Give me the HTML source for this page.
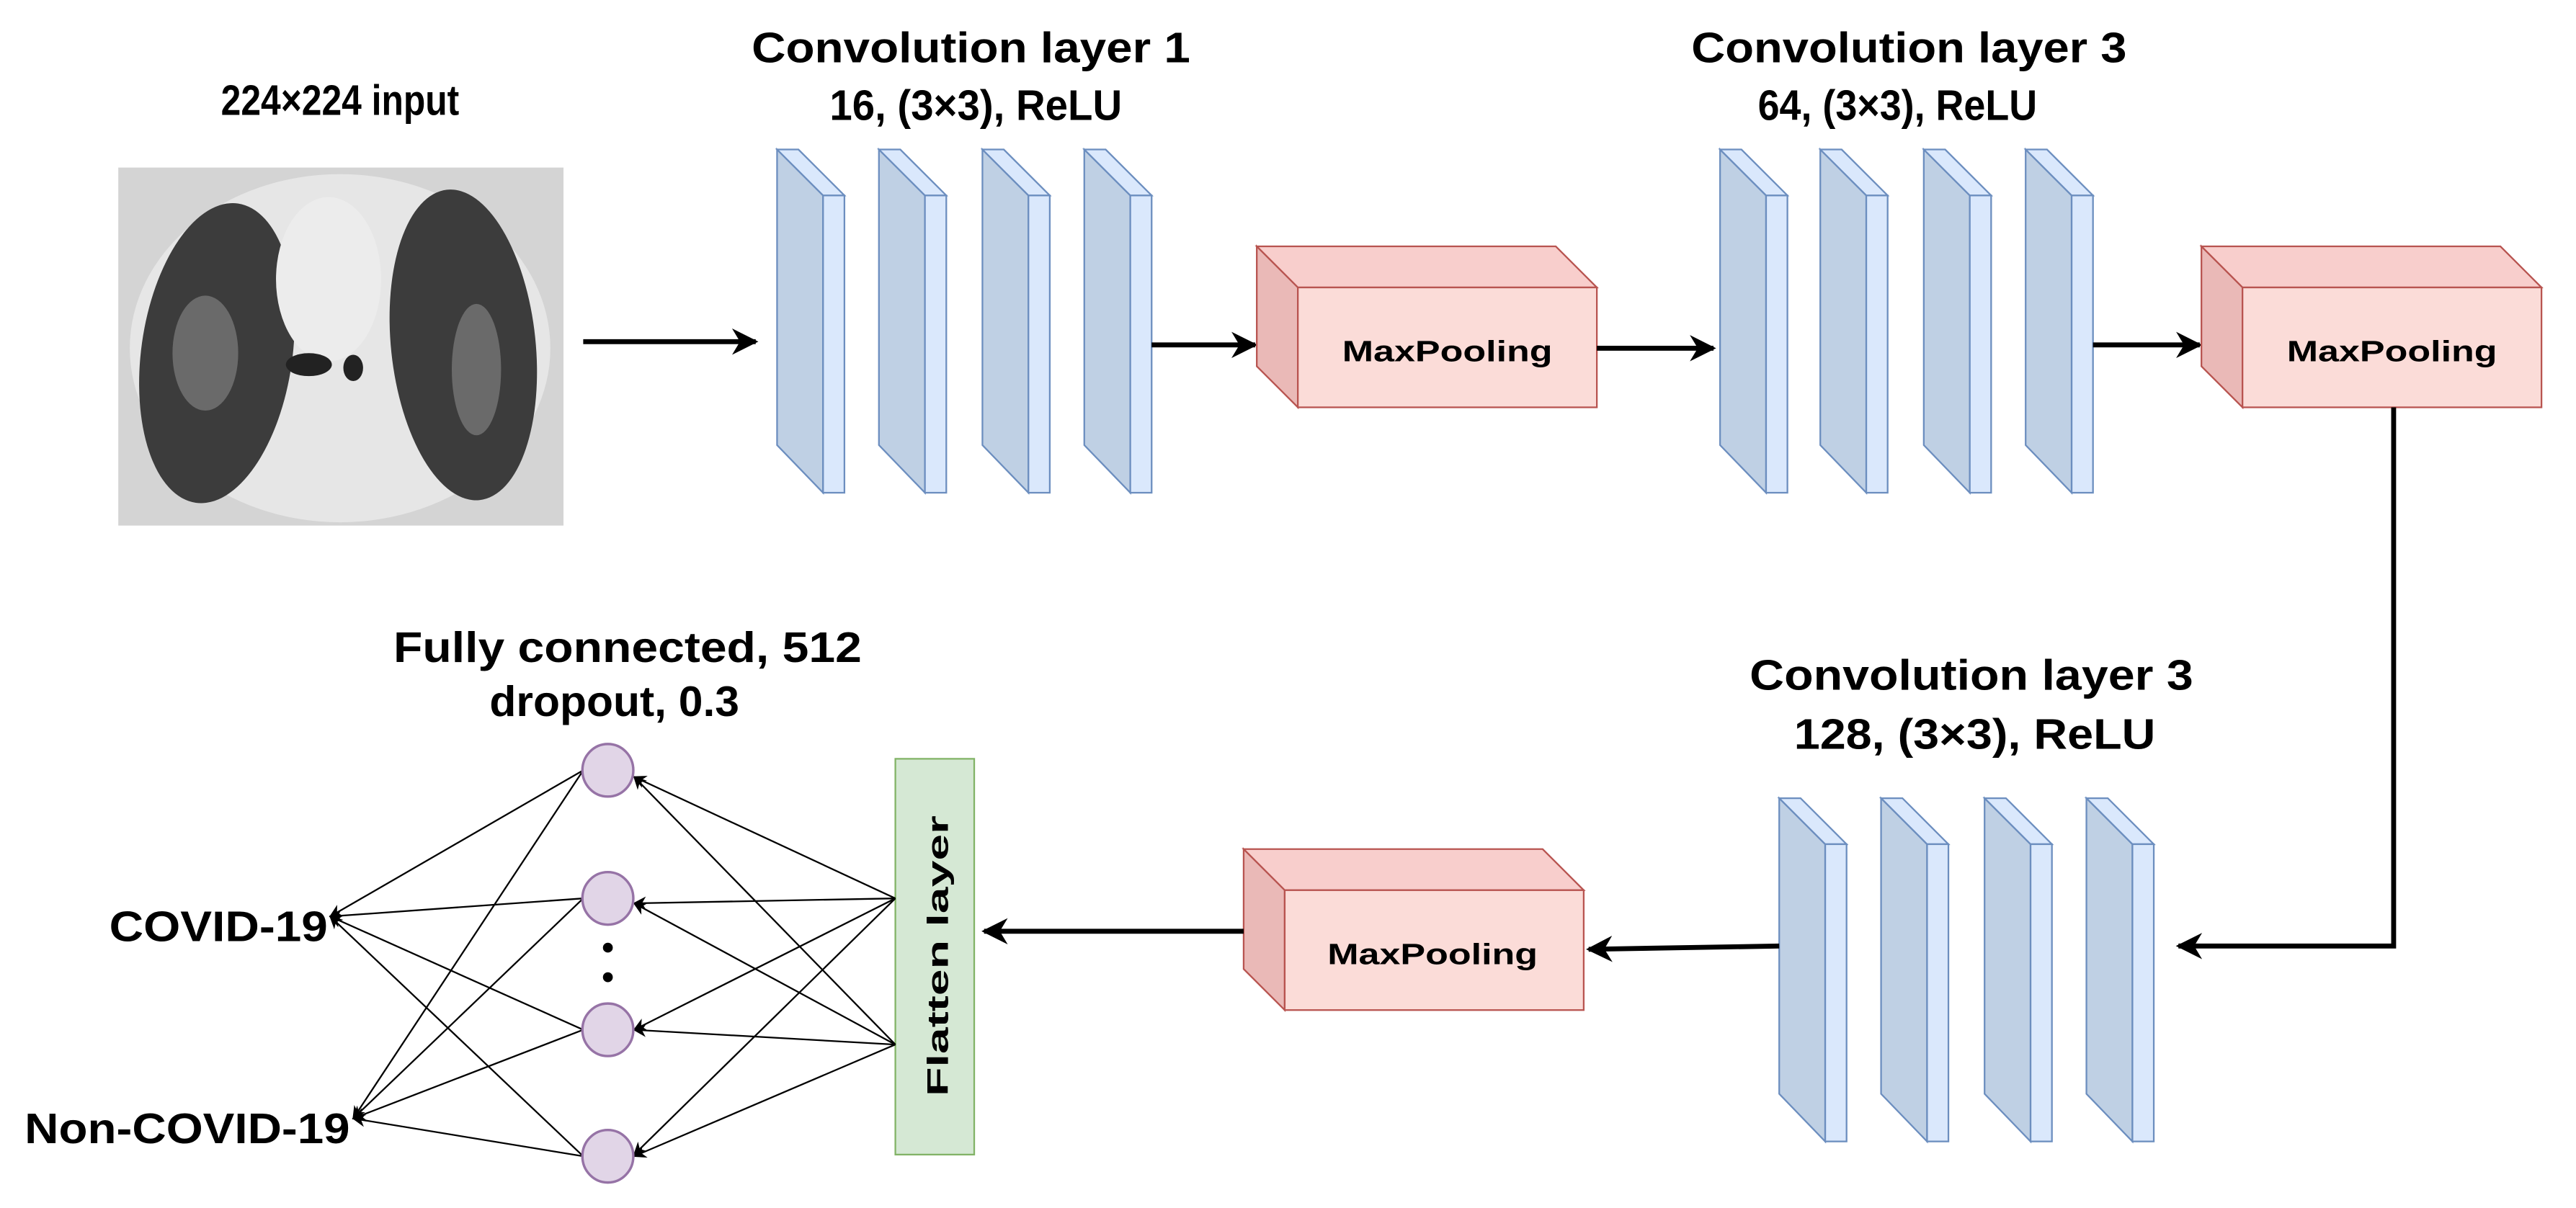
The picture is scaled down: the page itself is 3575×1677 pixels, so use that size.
<!DOCTYPE html>
<html><head><meta charset="utf-8"><style>
html,body{margin:0;padding:0;background:#fff}
svg{display:block}
.t{font-family:"Liberation Sans",sans-serif;font-weight:bold;font-size:26px;fill:#000;text-anchor:middle}
.m{font-family:"Liberation Sans",sans-serif;font-weight:bold;font-size:18px;fill:#000;text-anchor:middle}
</style></head><body>
<svg width="3575" height="1677" viewBox="0 0 1568 735.5" xmlns="http://www.w3.org/2000/svg">
<defs>
<marker id="ah" viewBox="0 0 10 10" refX="9" refY="5" markerWidth="8" markerHeight="8" markerUnits="userSpaceOnUse" orient="auto"><path d="M0,0 L10,5 L0,10 L3,5 z" fill="#000"/></marker>
<marker id="ab" viewBox="0 0 10 10" refX="9" refY="5" markerWidth="16" markerHeight="16" markerUnits="userSpaceOnUse" orient="auto"><path d="M0,0 L10,5 L0,10 L3,5 z" fill="#000"/></marker>
<g id="slab">
<path d="M0,0 L28,28 L28,209 L0,180 z" fill="#bfd0e4" stroke="#6c8ebf" stroke-width="1"/>
<path d="M0,0 L13,0 L41,28 L28,28 z" fill="#dae8fc" stroke="#6c8ebf" stroke-width="1"/>
<rect x="28" y="28" width="13" height="181" fill="#dae8fc" stroke="#6c8ebf" stroke-width="1"/>
</g>
<g id="pool">
<path d="M0,0 L182,0 L207,25 L25,25 z" fill="#f8cecc" stroke="#b85450" stroke-width="1"/>
<path d="M0,0 L25,25 L25,98 L0,73 z" fill="#eab9b7" stroke="#b85450" stroke-width="1"/>
<rect x="25" y="25" width="182" height="73" fill="#fbdcd8" stroke="#b85450" stroke-width="1"/>
</g>
</defs>

<!-- input -->
<text class="t" x="207" y="70" textLength="145" lengthAdjust="spacingAndGlyphs">224×224 input</text>
<rect x="72" y="102" width="271" height="218" fill="#d4d4d4"/>
<ellipse cx="207" cy="212" rx="128" ry="106" fill="#e6e6e6"/>
<ellipse cx="132" cy="215" rx="46" ry="92" fill="#3c3c3c" transform="rotate(8 132 215)"/>
<ellipse cx="282" cy="210" rx="44" ry="95" fill="#3c3c3c" transform="rotate(-6 282 210)"/>
<ellipse cx="125" cy="215" rx="20" ry="35" fill="#6a6a6a"/>
<ellipse cx="290" cy="225" rx="15" ry="40" fill="#6a6a6a"/>
<ellipse cx="200" cy="170" rx="32" ry="50" fill="#ececec"/>
<ellipse cx="188" cy="222" rx="14" ry="7" fill="#222"/>
<ellipse cx="215" cy="224" rx="6" ry="8" fill="#222"/>
<line x1="355" y1="208" x2="460" y2="208" stroke="#000" stroke-width="3" marker-end="url(#ab)"/>

<!-- conv 1 -->
<text class="t" x="591" y="38" textLength="267" lengthAdjust="spacingAndGlyphs">Convolution layer 1</text>
<text class="t" x="594" y="73" textLength="178" lengthAdjust="spacingAndGlyphs">16, (3×3), ReLU</text>
<use href="#slab" x="473" y="91"/><use href="#slab" x="535" y="91"/><use href="#slab" x="598" y="91"/><use href="#slab" x="660" y="91"/>
<line x1="701" y1="210" x2="764" y2="210" stroke="#000" stroke-width="3" marker-end="url(#ab)"/>

<use href="#pool" x="765" y="150"/>
<text class="m" x="881" y="220" textLength="128" lengthAdjust="spacingAndGlyphs">MaxPooling</text>
<line x1="972" y1="212" x2="1043" y2="212" stroke="#000" stroke-width="3" marker-end="url(#ab)"/>

<!-- conv 2 -->
<text class="t" x="1162" y="38" textLength="265" lengthAdjust="spacingAndGlyphs">Convolution layer 3</text>
<text class="t" x="1155" y="73" textLength="170" lengthAdjust="spacingAndGlyphs">64, (3×3), ReLU</text>
<use href="#slab" x="1047" y="91"/><use href="#slab" x="1108" y="91"/><use href="#slab" x="1171" y="91"/><use href="#slab" x="1233" y="91"/>
<line x1="1274" y1="210" x2="1339" y2="210" stroke="#000" stroke-width="3" marker-end="url(#ab)"/>

<use href="#pool" x="1340" y="150"/>
<text class="m" x="1456" y="220" textLength="128" lengthAdjust="spacingAndGlyphs">MaxPooling</text>
<polyline points="1457,248 1457,576 1326,576" fill="none" stroke="#000" stroke-width="3" marker-end="url(#ab)"/>

<!-- conv 3 -->
<text class="t" x="1200" y="420" textLength="270" lengthAdjust="spacingAndGlyphs">Convolution layer 3</text>
<text class="t" x="1202" y="456" textLength="220" lengthAdjust="spacingAndGlyphs">128, (3×3), ReLU</text>
<use href="#slab" x="1083" y="486"/><use href="#slab" x="1145" y="486"/><use href="#slab" x="1208" y="486"/><use href="#slab" x="1270" y="486"/>
<line x1="1083" y1="576" x2="967" y2="578" stroke="#000" stroke-width="3" marker-end="url(#ab)"/>

<use href="#pool" x="757" y="517"/>
<text class="m" x="872" y="587" textLength="128" lengthAdjust="spacingAndGlyphs">MaxPooling</text>
<line x1="757" y1="567" x2="599" y2="567" stroke="#000" stroke-width="3" marker-end="url(#ab)"/>

<!-- flatten -->
<rect x="545" y="462" width="48" height="241" fill="#d5e8d4" stroke="#82b366" stroke-width="1"/>
<text class="m" x="0" y="0" font-size="22" textLength="171" lengthAdjust="spacingAndGlyphs" transform="translate(577 582) rotate(-90)">Flatten layer</text>

<!-- FC -->
<text class="t" x="382" y="403" textLength="285" lengthAdjust="spacingAndGlyphs">Fully connected, 512</text>
<text class="t" x="374" y="436" textLength="152" lengthAdjust="spacingAndGlyphs">dropout, 0.3</text>
<g stroke="#000" stroke-width="1" fill="none">
<line x1="545" y1="547" x2="386" y2="473" marker-end="url(#ah)"/>
<line x1="545" y1="547" x2="386" y2="550" marker-end="url(#ah)"/>
<line x1="545" y1="547" x2="386" y2="627" marker-end="url(#ah)"/>
<line x1="545" y1="547" x2="386" y2="703" marker-end="url(#ah)"/>
<line x1="545" y1="636" x2="386" y2="473" marker-end="url(#ah)"/>
<line x1="545" y1="636" x2="386" y2="550" marker-end="url(#ah)"/>
<line x1="545" y1="636" x2="386" y2="627" marker-end="url(#ah)"/>
<line x1="545" y1="636" x2="386" y2="704" marker-end="url(#ah)"/>
<line x1="355" y1="469" x2="201" y2="558" marker-end="url(#ah)"/>
<line x1="355" y1="547" x2="201" y2="558" marker-end="url(#ah)"/>
<line x1="355" y1="627" x2="201" y2="558" marker-end="url(#ah)"/>
<line x1="355" y1="704" x2="201" y2="558" marker-end="url(#ah)"/>
<line x1="355" y1="469" x2="215" y2="681" marker-end="url(#ah)"/>
<line x1="355" y1="547" x2="215" y2="681" marker-end="url(#ah)"/>
<line x1="355" y1="627" x2="215" y2="681" marker-end="url(#ah)"/>
<line x1="355" y1="704" x2="215" y2="681" marker-end="url(#ah)"/>
</g>
<g fill="#e1d5e7" stroke="#9673a6" stroke-width="1.5">
<ellipse cx="370" cy="469" rx="15.5" ry="16"/>
<ellipse cx="370" cy="547" rx="15.5" ry="16"/>
<ellipse cx="370" cy="627" rx="15.5" ry="16"/>
<ellipse cx="370" cy="704" rx="15.5" ry="16"/>
</g>
<circle cx="370" cy="577" r="3" fill="#000"/>
<circle cx="370" cy="595" r="3" fill="#000"/>
<text class="t" x="133" y="573" textLength="133" lengthAdjust="spacingAndGlyphs">COVID-19</text>
<text class="t" x="114" y="696" textLength="198" lengthAdjust="spacingAndGlyphs">Non-COVID-19</text>
</svg>
</body></html>
